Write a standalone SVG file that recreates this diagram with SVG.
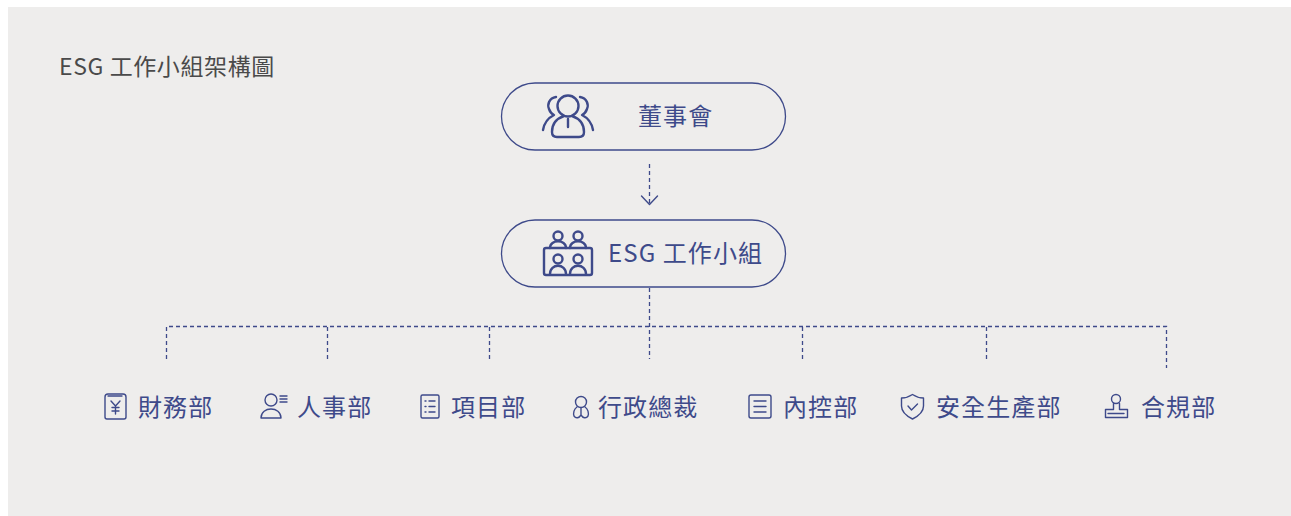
<svg xmlns="http://www.w3.org/2000/svg" width="1291" height="516" viewBox="0 0 1291 516">
<defs><style>
text{font-family:"Noto Sans CJK TC","Noto Sans",sans-serif}
.t{font-size:24px;fill:#3e4a8a;letter-spacing:1.1px}
.pill{fill:none;stroke:#3e4a8a;stroke-width:1.3}
.ic{fill:none;stroke:#3e4a8a;stroke-width:1.4;stroke-linecap:round;stroke-linejoin:round}
.ic2{fill:none;stroke:#3e4a8a;stroke-width:2.4;stroke-linecap:round;stroke-linejoin:round}
.d{fill:none;stroke:#3e4a8a;stroke-width:1.3;stroke-dasharray:4 3}
</style></defs>
<rect width="1291" height="516" fill="#fff"/>
<rect x="8" y="7" width="1283" height="509" fill="#eeedec"/>
<text x="59" y="75" font-size="23" fill="#4a4a4a" letter-spacing="0.6">ESG 工作小組架構圖</text>
<g id="connectors">
<path class="d" d="M649.500 164V203"/>
<path class="ic" d="M641.500 196L649.500 204.500L657.500 196"/>
<path class="d" d="M649.500 288V359"/>
<path class="d" d="M166.500 359V326.500H1166.500V368"/>
<path class="d" d="M327.500 327V359M489.500 327V359M802.500 327V359M986.500 327V359"/>
</g>
<g id="n-board">
<rect class="pill" x="501.500" y="83" width="284" height="67" rx="33.500"/>
<g class="ic2">
<circle cx="568" cy="106" r="10.500"/>
<path d="M552 132c0-9 6-14 12-16M584 132c0-9-6-14-12-16M552 132c0 3 2 5 5 5h22c3 0 5-2 5-5M568 119v8"/>
<path d="M556 97c-7 1-9 8-7 12 1 3 3 5 5 6-6 3-10 9-11 15M580 97c7 1 9 8 7 12-1 3-3 5-5 6 6 3 10 9 11 15"/>
</g>
<text class="t" x="638" y="125">董事會</text>
</g>
<g id="n-esg">
<rect class="pill" x="501.500" y="220" width="284" height="67" rx="33.500"/>
<g class="ic2">
<circle cx="558" cy="236" r="4.500"/><circle cx="578" cy="236" r="4.500"/>
<path d="M550 248c0-9 16-9 16 0M570 248c0-9 16-9 16 0"/>
<rect x="544" y="248" width="48" height="27" rx="2"/>
<circle cx="558" cy="259" r="4.500"/><circle cx="578" cy="259" r="4.500"/>
<path d="M550 274c0-11 16-11 16 0M570 274c0-11 16-11 16 0"/>
</g>
<text class="t" x="608" y="262">ESG 工作小組</text>
</g>
<g id="n-finance">
<g class="ic">
<path d="M105 397c0-2 1-3 3-3h15c2 0 3 1 3 3v20c0 1-1 2-2 2h-17c-1 0-2-1-2-2z"/>
<path d="M108 396h14"/>
<path d="M111 401l4.500 5 4.500-5M115.500 406v8M112 407.500h7M112 411h7"/>
</g>
<text class="t" x="138" y="416">財務部</text>
</g>
<g id="n-hr">
<g class="ic">
<circle cx="271" cy="400" r="6"/>
<path d="M261 418c0-12 20-12 20 0z"/>
<path d="M280 396h7M280 399h7M280 402h7"/>
</g>
<text class="t" x="297" y="416">人事部</text>
</g>
<g id="n-project">
<g class="ic">
<rect x="421" y="395" width="18" height="23" rx="1.500"/>
<path d="M425 401h1M425 406.500h1M425 412h1M429 401h6M429 406.500h6M429 412h6"/>
</g>
<text class="t" x="451" y="416">項目部</text>
</g>
<g id="n-admin">
<g class="ic">
<circle cx="581" cy="402" r="5.500"/>
<path d="M577 407c-3 2-4 6-3 9 2 3 5 2 7-1 2 3 5 4 7 1 1-3 0-7-3-9M581 408v7"/>
</g>
<text class="t" x="598" y="416">行政總裁</text>
</g>
<g id="n-control">
<g class="ic">
<rect x="749" y="395" width="22" height="23" rx="2"/>
<path d="M754 401h12M754 406.500h12M754 412h12"/>
</g>
<text class="t" x="783" y="416">內控部</text>
</g>
<g id="n-safety">
<g class="ic">
<path d="M912.500 394.500c3 2 7 3.500 11 3.500v8c0 6-5 10-11 13-6-3-11-7-11-13v-8c4 0 8-1.500 11-3.500z"/>
<path d="M908 406l3.500 4 6-6"/>
</g>
<text class="t" x="936" y="416">安全生產部</text>
</g>
<g id="n-compliance">
<g class="ic">
<circle cx="1116" cy="399" r="4.500"/>
<path d="M1113.500 403.500v6h-8v8h22v-8h-8v-6M1108 413.500h16"/>
</g>
<text class="t" x="1141" y="416">合規部</text>
</g>
</svg>
